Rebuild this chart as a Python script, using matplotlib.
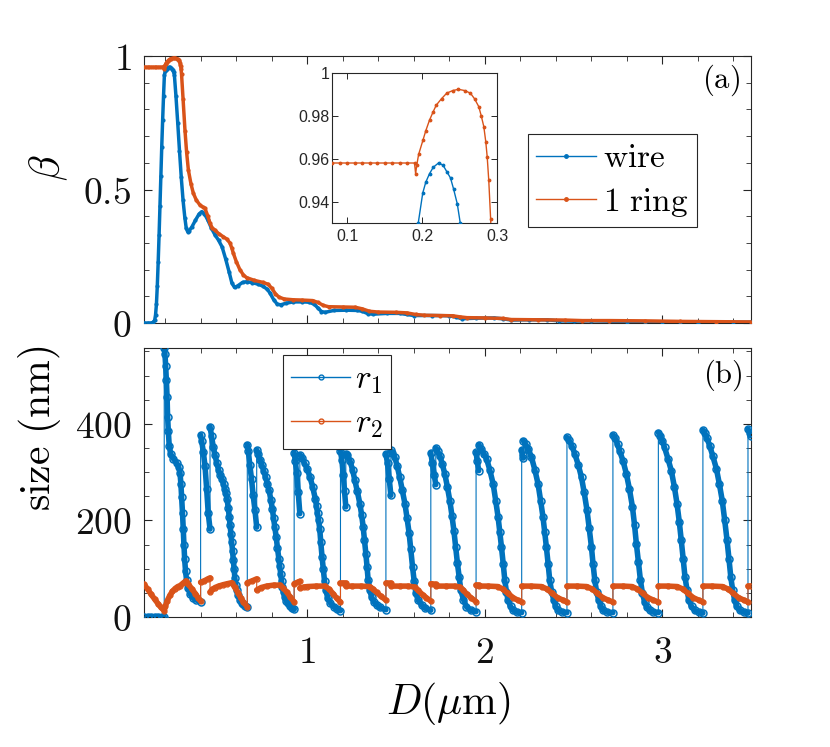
import numpy as np
import matplotlib
matplotlib.use('Agg')
import matplotlib.pyplot as plt
from matplotlib.lines import Line2D
from matplotlib.ticker import MultipleLocator, FixedLocator, FuncFormatter

# ---------------- data ----------------
wire_x = [0.08, 0.10, 0.12, 0.13, 0.14, 0.145, 0.15, 0.155, 0.16, 0.165, 0.17, 0.175, 0.18, 0.185, 0.19,
          0.195, 0.201, 0.205, 0.21, 0.215, 0.222, 0.228, 0.233, 0.238, 0.242, 0.247, 0.251, 0.26, 0.27, 0.28,
          0.29, 0.30, 0.31, 0.318, 0.326,
          0.335, 0.35, 0.37, 0.39, 0.405, 0.42, 0.44, 0.46, 0.48, 0.50, 0.52, 0.54, 0.56, 0.575, 0.59,
          0.61, 0.635, 0.66, 0.69, 0.72, 0.75, 0.775, 0.79, 0.81, 0.83, 0.85, 0.88, 0.92, 0.97, 1.01,
          1.04, 1.06, 1.08, 1.10, 1.15, 1.22, 1.28, 1.31, 1.34, 1.37, 1.45, 1.52, 1.56, 1.60, 1.70,
          1.80, 1.84, 1.87, 1.95, 2.05, 2.10, 2.15, 2.25, 2.35, 2.42, 2.50, 2.60, 2.70, 2.80, 2.90,
          3.00, 3.10, 3.20, 3.30, 3.40, 3.50]
wire_y = [0, 0, 0, 0.002, 0.01, 0.03, 0.07, 0.14, 0.23, 0.33, 0.44, 0.55, 0.66, 0.76, 0.85,
          0.93, 0.944, 0.949, 0.953, 0.956, 0.958, 0.957, 0.954, 0.951, 0.946, 0.939, 0.93, 0.85, 0.75, 0.645,
          0.545, 0.46, 0.395, 0.355, 0.342,
          0.346, 0.36, 0.385, 0.408, 0.417, 0.41, 0.385, 0.355, 0.33, 0.31, 0.285, 0.24, 0.19, 0.15, 0.133,
          0.14, 0.152, 0.155, 0.151, 0.146, 0.138, 0.126, 0.112, 0.088, 0.071, 0.068, 0.074, 0.079, 0.079, 0.078,
          0.07, 0.056, 0.043, 0.04, 0.047, 0.048, 0.047, 0.044, 0.035, 0.033, 0.036, 0.036, 0.032, 0.028, 0.028,
          0.027, 0.022, 0.016, 0.018, 0.019, 0.016, 0.011, 0.012, 0.012, 0.008, 0.007, 0.008, 0.007, 0.004, 0.002,
          0.002, 0.002, 0.001, 0.002, 0.003, 0.003]

ring_x = [0.08, 0.09, 0.10, 0.11, 0.12, 0.13, 0.14, 0.15, 0.16, 0.17, 0.18, 0.19, 0.1915, 0.193, 0.1955,
          0.2014, 0.205, 0.210, 0.215, 0.219, 0.226, 0.233, 0.241, 0.2486, 0.257, 0.2645, 0.270, 0.2757, 0.279,
          0.2824, 0.285, 0.2869, 0.289, 0.2915, 0.30, 0.311, 0.32, 0.33,
          0.345, 0.358, 0.375, 0.395, 0.41, 0.423, 0.44, 0.452, 0.465, 0.48, 0.50, 0.527, 0.545, 0.564, 0.575,
          0.583, 0.60, 0.62, 0.64, 0.658, 0.70, 0.75, 0.78, 0.80, 0.82, 0.84, 0.87, 0.92, 0.97, 1.03,
          1.06, 1.09, 1.12, 1.20, 1.27, 1.31, 1.35, 1.40, 1.50, 1.56, 1.61, 1.66, 1.75, 1.82, 1.86,
          1.90, 2.00, 2.10, 2.15, 2.30, 2.45, 2.55, 2.70, 2.90, 3.10, 3.30, 3.50]
ring_y = [0.958, 0.958, 0.958, 0.958, 0.958, 0.958, 0.958, 0.958, 0.958, 0.958, 0.958, 0.958, 0.953, 0.957, 0.962,
          0.9688, 0.973, 0.978, 0.982, 0.985, 0.988, 0.9906, 0.9918, 0.9924, 0.9918, 0.9906, 0.988, 0.9843, 0.980,
          0.975, 0.968, 0.961, 0.95, 0.932, 0.84, 0.72, 0.64, 0.573,
          0.52, 0.486, 0.46, 0.442, 0.435, 0.43, 0.40, 0.373, 0.355, 0.348, 0.335, 0.323, 0.315, 0.30, 0.28,
          0.262, 0.23, 0.20, 0.18, 0.17, 0.16, 0.152, 0.145, 0.13, 0.11, 0.097, 0.09, 0.087, 0.086, 0.084,
          0.077, 0.066, 0.061, 0.06, 0.059, 0.053, 0.044, 0.041, 0.04, 0.038, 0.032, 0.029, 0.028, 0.027, 0.023,
          0.02, 0.019, 0.017, 0.013, 0.012, 0.011, 0.009, 0.009, 0.008, 0.006, 0.005, 0.004]

r1_x = ([0.08, 0.10, 0.12, 0.14, 0.16, 0.18, 0.194]
        + [0.194, 0.198, 0.202, 0.206, 0.210, 0.213, 0.217, 0.222, 0.230, 0.245, 0.264, 0.276, 0.283, 0.288, 0.292,
           0.297, 0.301, 0.305, 0.309, 0.314, 0.320, 0.328, 0.340, 0.355, 0.375, 0.399]
        + [0.399, 0.405, 0.414, 0.424, 0.433, 0.442, 0.452]
        + [0.452, 0.461, 0.470, 0.480, 0.490, 0.500, 0.510, 0.520, 0.528, 0.536, 0.542, 0.548, 0.555, 0.560, 0.565,
           0.570, 0.574, 0.579, 0.583, 0.588, 0.592, 0.597, 0.603, 0.610, 0.620, 0.630, 0.640, 0.650, 0.662]
        + [0.662, 0.668, 0.676, 0.686, 0.695, 0.705, 0.715]
        + [0.715, 0.724, 0.735, 0.745, 0.755, 0.765, 0.775, 0.785, 0.795, 0.803, 0.810, 0.817, 0.825, 0.832, 0.840,
           0.845, 0.850, 0.855, 0.860, 0.866, 0.873, 0.881, 0.890, 0.900, 0.912, 0.926]
        + [0.926, 0.933, 0.940, 0.949, 0.958]
        + [0.958, 0.970, 0.985, 1.000, 1.015, 1.030, 1.045, 1.052, 1.058, 1.064, 1.070, 1.076, 1.083, 1.090, 1.097,
           1.105, 1.115, 1.130, 1.150, 1.168, 1.187]
        + [1.187, 1.195, 1.203, 1.210, 1.217]
        + [1.217, 1.225, 1.240, 1.255, 1.268, 1.282, 1.296, 1.306, 1.315, 1.322, 1.330, 1.337, 1.343, 1.352, 1.362,
           1.375, 1.390, 1.410, 1.443]
        + [1.443, 1.452, 1.462, 1.471]
        + [1.471, 1.480, 1.493, 1.507, 1.521, 1.535, 1.550, 1.562, 1.574, 1.583, 1.593, 1.602, 1.612, 1.625, 1.644,
           1.665, 1.696]
        + [1.696, 1.705, 1.715, 1.724]
        + [1.724, 1.735, 1.747, 1.761, 1.775, 1.789, 1.803, 1.815, 1.826, 1.836, 1.846, 1.856, 1.865, 1.880, 1.897,
           1.920, 1.951]
        + [1.951, 1.958, 1.966]
        + [1.966, 1.980, 1.995, 2.010, 2.028, 2.047, 2.062, 2.075, 2.085, 2.094, 2.104, 2.113, 2.122, 2.131, 2.145,
           2.160, 2.180, 2.208]
        + [2.208, 2.213, 2.217]
        + [2.217, 2.230, 2.245, 2.263, 2.282, 2.300, 2.315, 2.328, 2.338, 2.347, 2.357, 2.366, 2.377, 2.389, 2.400,
           2.413, 2.435, 2.463]
        + [2.463, 2.475, 2.490, 2.507, 2.527, 2.545, 2.560, 2.576, 2.588, 2.601, 2.610, 2.620, 2.630, 2.642, 2.655,
           2.666, 2.690, 2.722]
        + [2.722, 2.735, 2.748, 2.760, 2.780, 2.798, 2.815, 2.832, 2.844, 2.854, 2.866, 2.877, 2.888, 2.900, 2.914,
           2.929, 2.950, 2.978]
        + [2.978, 2.990, 3.000, 3.013, 3.032, 3.051, 3.068, 3.083, 3.096, 3.107, 3.118, 3.128, 3.140, 3.150, 3.165,
           3.182, 3.205, 3.229]
        + [3.229, 3.240, 3.252, 3.267, 3.285, 3.305, 3.322, 3.338, 3.352, 3.365, 3.376, 3.386, 3.397, 3.408, 3.420,
           3.436, 3.460, 3.483]
        + [3.483, 3.492, 3.500])
r1_y = ([0, 0, 0, 0, 0, 0, 0]
        + [557, 545, 520, 490, 455, 415, 385, 355, 338, 328, 319, 310, 298, 275, 248,
           215, 183, 150, 120, 95, 76, 60, 48, 40, 35, 32]
        + [377, 365, 342, 312, 265, 215, 182]
        + [394, 374, 352, 335, 319, 305, 294, 285, 276, 265, 256, 245, 225, 208, 190,
           172, 155, 137, 118, 99, 80, 66, 55, 45, 36, 30, 26, 23, 20]
        + [357, 343, 315, 285, 252, 222, 186]
        + [346, 338, 325, 314, 302, 290, 276, 262, 242, 224, 205, 186, 165, 143, 120,
           105, 90, 75, 62, 51, 42, 34, 28, 23, 19, 16]
        + [340, 322, 298, 258, 214]
        + [336, 330, 318, 306, 290, 270, 245, 230, 215, 200, 183, 155, 125, 100, 75,
           55, 40, 29, 21, 16, 13]
        + [343, 325, 295, 260, 228]
        + [338, 335, 324, 305, 283, 260, 235, 212, 186, 160, 131, 103, 76, 56, 42,
           32, 25, 20, 15]
        + [338, 318, 285, 252]
        + [345, 340, 331, 312, 289, 263, 235, 205, 173, 140, 104, 75, 49, 35, 25,
           18, 14]
        + [340, 318, 295, 274]
        + [350, 343, 334, 316, 296, 270, 241, 210, 179, 145, 111, 82, 56, 36, 21,
           14, 11]
        + [341, 322, 303]
        + [357, 348, 338, 328, 305, 276, 240, 207, 175, 145, 110, 76, 52, 35, 22,
           14, 10, 9]
        + [346, 335, 329]
        + [365, 358, 348, 331, 305, 276, 240, 207, 175, 145, 110, 76, 52, 35, 22,
           14, 10, 9]
        + [372, 366, 355, 338, 315, 289, 258, 221, 185, 145, 110, 76, 52, 35, 22,
           14, 10, 9]
        + [377, 370, 358, 344, 322, 296, 265, 228, 190, 152, 113, 76, 50, 32, 20,
           14, 10, 9]
        + [382, 375, 365, 351, 328, 303, 270, 235, 197, 159, 120, 83, 55, 35, 22,
           14, 10, 8]
        + [387, 381, 370, 355, 333, 307, 275, 241, 200, 159, 120, 83, 55, 35, 22,
           14, 10, 8]
        + [389, 382, 375])

r2_x = ([0.08, 0.10, 0.12, 0.14, 0.16, 0.175, 0.194, 0.200, 0.210, 0.226, 0.240, 0.255, 0.270, 0.283, 0.300,
         0.316, 0.330, 0.350, 0.370, 0.385, 0.399]
        + [0.399, 0.420, 0.440, 0.452]
        + [0.452, 0.465, 0.480, 0.500, 0.527, 0.550, 0.574, 0.590, 0.610, 0.625, 0.640, 0.662]
        + [0.662, 0.690, 0.715]
        + [0.715, 0.740, 0.771, 0.810, 0.846, 0.865, 0.883, 0.905, 0.926]
        + [0.926, 0.945, 0.958]
        + [0.958, 0.980, 1.000, 1.050, 1.100, 1.125, 1.146, 1.165, 1.187]
        + [1.187, 1.200, 1.217]
        + [1.217, 1.250, 1.300, 1.352, 1.370, 1.390, 1.415, 1.443]
        + [1.443, 1.471]
        + [1.471, 1.520, 1.570, 1.605, 1.625, 1.650, 1.670, 1.696]
        + [1.696, 1.724]
        + [1.724, 1.780, 1.830, 1.860, 1.880, 1.900, 1.925, 1.951]
        + [1.951, 1.966]
        + [1.966, 2.020, 2.075, 2.100, 2.130, 2.160, 2.185, 2.208]
        + [2.208, 2.260, 2.320, 2.350, 2.380, 2.410, 2.440, 2.463]
        + [2.463, 2.520, 2.575, 2.605, 2.635, 2.665, 2.695, 2.722]
        + [2.722, 2.780, 2.830, 2.860, 2.890, 2.920, 2.950, 2.978]
        + [2.978, 3.030, 3.085, 3.115, 3.145, 3.175, 3.205, 3.229]
        + [3.229, 3.280, 3.340, 3.370, 3.400, 3.430, 3.460, 3.483]
        + [3.483, 3.500])
r2_y = ([68, 58, 47, 37, 27, 20, 13, 22, 33, 45, 53, 59, 63, 65, 70,
         75, 68, 58, 48, 40, 33]
        + [72, 75, 79, 81]
        + [52, 57, 61, 64, 67, 69, 71, 62, 50, 40, 31, 21]
        + [71, 75, 79]
        + [56, 61, 64, 66, 66, 60, 52, 41, 31]
        + [69, 72, 74]
        + [60, 62, 63, 64, 64, 57, 48, 39, 31]
        + [70, 70, 70]
        + [64, 64, 64, 63, 58, 51, 43, 35]
        + [70, 70]
        + [64, 64, 64, 62, 55, 46, 40, 33]
        + [69, 68]
        + [64, 64, 64, 62, 55, 47, 39, 32]
        + [66, 66]
        + [64, 64, 63, 58, 49, 40, 35, 31]
        + [64, 64, 63, 58, 49, 40, 35, 31]
        + [64, 64, 63, 58, 49, 40, 35, 31]
        + [64, 64, 63, 58, 49, 40, 35, 31]
        + [64, 64, 63, 58, 49, 40, 35, 31]
        + [64, 64, 63, 58, 49, 40, 35, 31]
        + [64, 64])

assert len(wire_x) == len(wire_y), (len(wire_x), len(wire_y))
assert len(ring_x) == len(ring_y), (len(ring_x), len(ring_y))
assert len(r1_x) == len(r1_y), (len(r1_x), len(r1_y))
assert len(r2_x) == len(r2_y), (len(r2_x), len(r2_y))

# ---------------- style ----------------
plt.rcParams['mathtext.fontset'] = 'cm'
plt.rcParams['font.family'] = ['DejaVu Serif']
BLUE = '#0072BD'
RED = '#D95319'
AXC = '#262626'

fig = plt.figure(figsize=(8.3, 7.47), dpi=100)
W, H = 830.0, 747.0


def rect(l, t, r, b):
    return [l / W, 1 - b / H, (r - l) / W, (b - t) / H]


ax1 = fig.add_axes(rect(144, 56, 751, 323))
ax2 = fig.add_axes(rect(144, 348, 751, 617))
axi = fig.add_axes(rect(332, 73, 497, 223))

mathfmt = FuncFormatter(lambda v, p: r'$%g$' % v)


def style_axes(ax, fs=27, pad_x=13, pad_y=9):
    for s in ax.spines.values():
        s.set_color(AXC)
        s.set_linewidth(0.8)
    ax.tick_params(which='both', direction='in', top=True, right=True, colors=AXC)
    ax.tick_params(which='major', length=6, width=0.8)
    ax.tick_params(which='minor', length=3.5, width=0.6)
    ax.tick_params(axis='x', labelsize=fs, pad=pad_x, labelcolor='#111111')
    ax.tick_params(axis='y', labelsize=fs, pad=pad_y, labelcolor='#111111')


# ---------------- top panel ----------------
style_axes(ax1)
ax1.plot(wire_x, wire_y, color=BLUE, lw=2.5, marker='.', ms=4, zorder=3)
ax1.plot(ring_x, ring_y, color=RED, lw=2.5, marker='.', ms=4, zorder=4)
ax1.set_xlim(0.08, 3.5)
ax1.set_ylim(0, 1)
ax1.xaxis.set_major_locator(FixedLocator([1, 2, 3]))
ax1.xaxis.set_minor_locator(MultipleLocator(0.2))
ax1.set_xticklabels([])
ax1.yaxis.set_major_locator(FixedLocator([0, 0.5, 1]))
ax1.yaxis.set_minor_locator(MultipleLocator(0.1))
ax1.yaxis.set_major_formatter(mathfmt)
ax1.set_ylabel(r'$\beta$', fontsize=30, rotation=90)
ax1.yaxis.set_label_coords(-0.122, 0.58)
ax1.text(0.982, 0.91, r'$\mathrm{(a)}$', transform=ax1.transAxes, ha='right', va='center', fontsize=22)

h1 = [Line2D([], [], color=BLUE, lw=1, marker='.', ms=5),
      Line2D([], [], color=RED, lw=1, marker='.', ms=5)]
leg1 = ax1.legend(h1, [r'$\mathrm{wire}$', r'$1\ \mathrm{ring}$'], loc='upper left',
                  bbox_to_anchor=((528 - 144) / 607, (323 - 134) / 267), borderaxespad=0,
                  fontsize=24, frameon=True, fancybox=False, edgecolor=AXC, framealpha=1,
                  handlelength=1.8, handletextpad=0.2, borderpad=0.25, labelspacing=0.35, numpoints=1)
leg1.get_frame().set_linewidth(0.8)

# ---------------- inset ----------------
for s in axi.spines.values():
    s.set_color(AXC)
    s.set_linewidth(0.8)
axi.plot(wire_x, wire_y, color=BLUE, lw=1.0, marker='.', ms=3.5, zorder=3)
axi.plot(ring_x, ring_y, color=RED, lw=1.0, marker='.', ms=3.5, zorder=4)
axi.set_xlim(0.08, 0.3)
axi.set_ylim(0.93, 1.0)
axi.xaxis.set_major_locator(FixedLocator([0.1, 0.2, 0.3]))
axi.yaxis.set_major_locator(FixedLocator([0.94, 0.96, 0.98, 1.0]))
axi.xaxis.set_major_formatter(FuncFormatter(lambda v, p: '%g' % round(v, 3)))
axi.yaxis.set_major_formatter(FuncFormatter(lambda v, p: '%g' % round(v, 3)))
axi.tick_params(which='both', direction='in', top=True, right=True, length=4, width=0.7,
                labelsize=11.5, colors=AXC, pad=2)
for lab in axi.get_xticklabels() + axi.get_yticklabels():
    lab.set_family('Liberation Sans')
axi.tick_params(axis='x', pad=4)

# ---------------- bottom panel ----------------
style_axes(ax2)


def pieces(x, y):
    x = np.asarray(x, float)
    y = np.asarray(y, float)
    cut = np.where(np.diff(x) == 0)[0] + 1
    return list(zip(np.split(x, cut), np.split(y, cut)))


ax2.plot(r1_x, r1_y, color=BLUE, lw=0.8, zorder=2)
for bx, by in pieces(r1_x, r1_y):
    ax2.plot(bx, by, color=BLUE, lw=4.0, solid_capstyle='round', zorder=2)
ax2.plot(r1_x, r1_y, ls='none', marker='o', ms=5, mfc='none', mec=BLUE, mew=1.1, zorder=3)

ax2.plot(r2_x, r2_y, color=RED, lw=0.8, zorder=4)
for bx, by in pieces(r2_x, r2_y):
    ax2.plot(bx, by, color=RED, lw=4.0, solid_capstyle='round', zorder=4)
ax2.plot(r2_x, r2_y, ls='none', marker='o', ms=3.5, mfc='none', mec=RED, mew=1.0, zorder=5)

ax2.set_xlim(0.08, 3.5)
ax2.set_ylim(0, 557)
ax2.xaxis.set_major_locator(FixedLocator([1, 2, 3]))
ax2.xaxis.set_minor_locator(MultipleLocator(0.2))
ax2.xaxis.set_major_formatter(mathfmt)
ax2.yaxis.set_major_locator(FixedLocator([0, 200, 400]))
ax2.yaxis.set_minor_locator(MultipleLocator(50))
ax2.yaxis.set_major_formatter(mathfmt)
ax2.set_ylabel(r'$\mathrm{size\ (nm)}$', fontsize=30)
ax2.yaxis.set_label_coords(-0.133, 0.703)
ax2.set_xlabel(r'$D(\mu\mathrm{m})$', fontsize=30)
ax2.xaxis.set_label_coords(0.502, -0.235)
ax2.text(0.987, 0.90, r'$\mathrm{(b)}$', transform=ax2.transAxes, ha='right', va='center', fontsize=22)

h2 = [Line2D([], [], color=BLUE, lw=1, marker='o', ms=3.5, mfc='none', mew=1),
      Line2D([], [], color=RED, lw=1, marker='o', ms=3.5, mfc='none', mew=1)]
leg2 = ax2.legend(h2, [r'$r_1$', r'$r_2$'], loc='upper left',
                  bbox_to_anchor=((283 - 144) / 607, (617 - 355) / 269), borderaxespad=0,
                  fontsize=24, frameon=True, fancybox=False, edgecolor=AXC, framealpha=1,
                  handlelength=1.75, handletextpad=0.15, borderpad=0.25, labelspacing=0.35, numpoints=1)
leg2.get_frame().set_linewidth(0.8)

fig.savefig('out.png', dpi=100, facecolor='white')
